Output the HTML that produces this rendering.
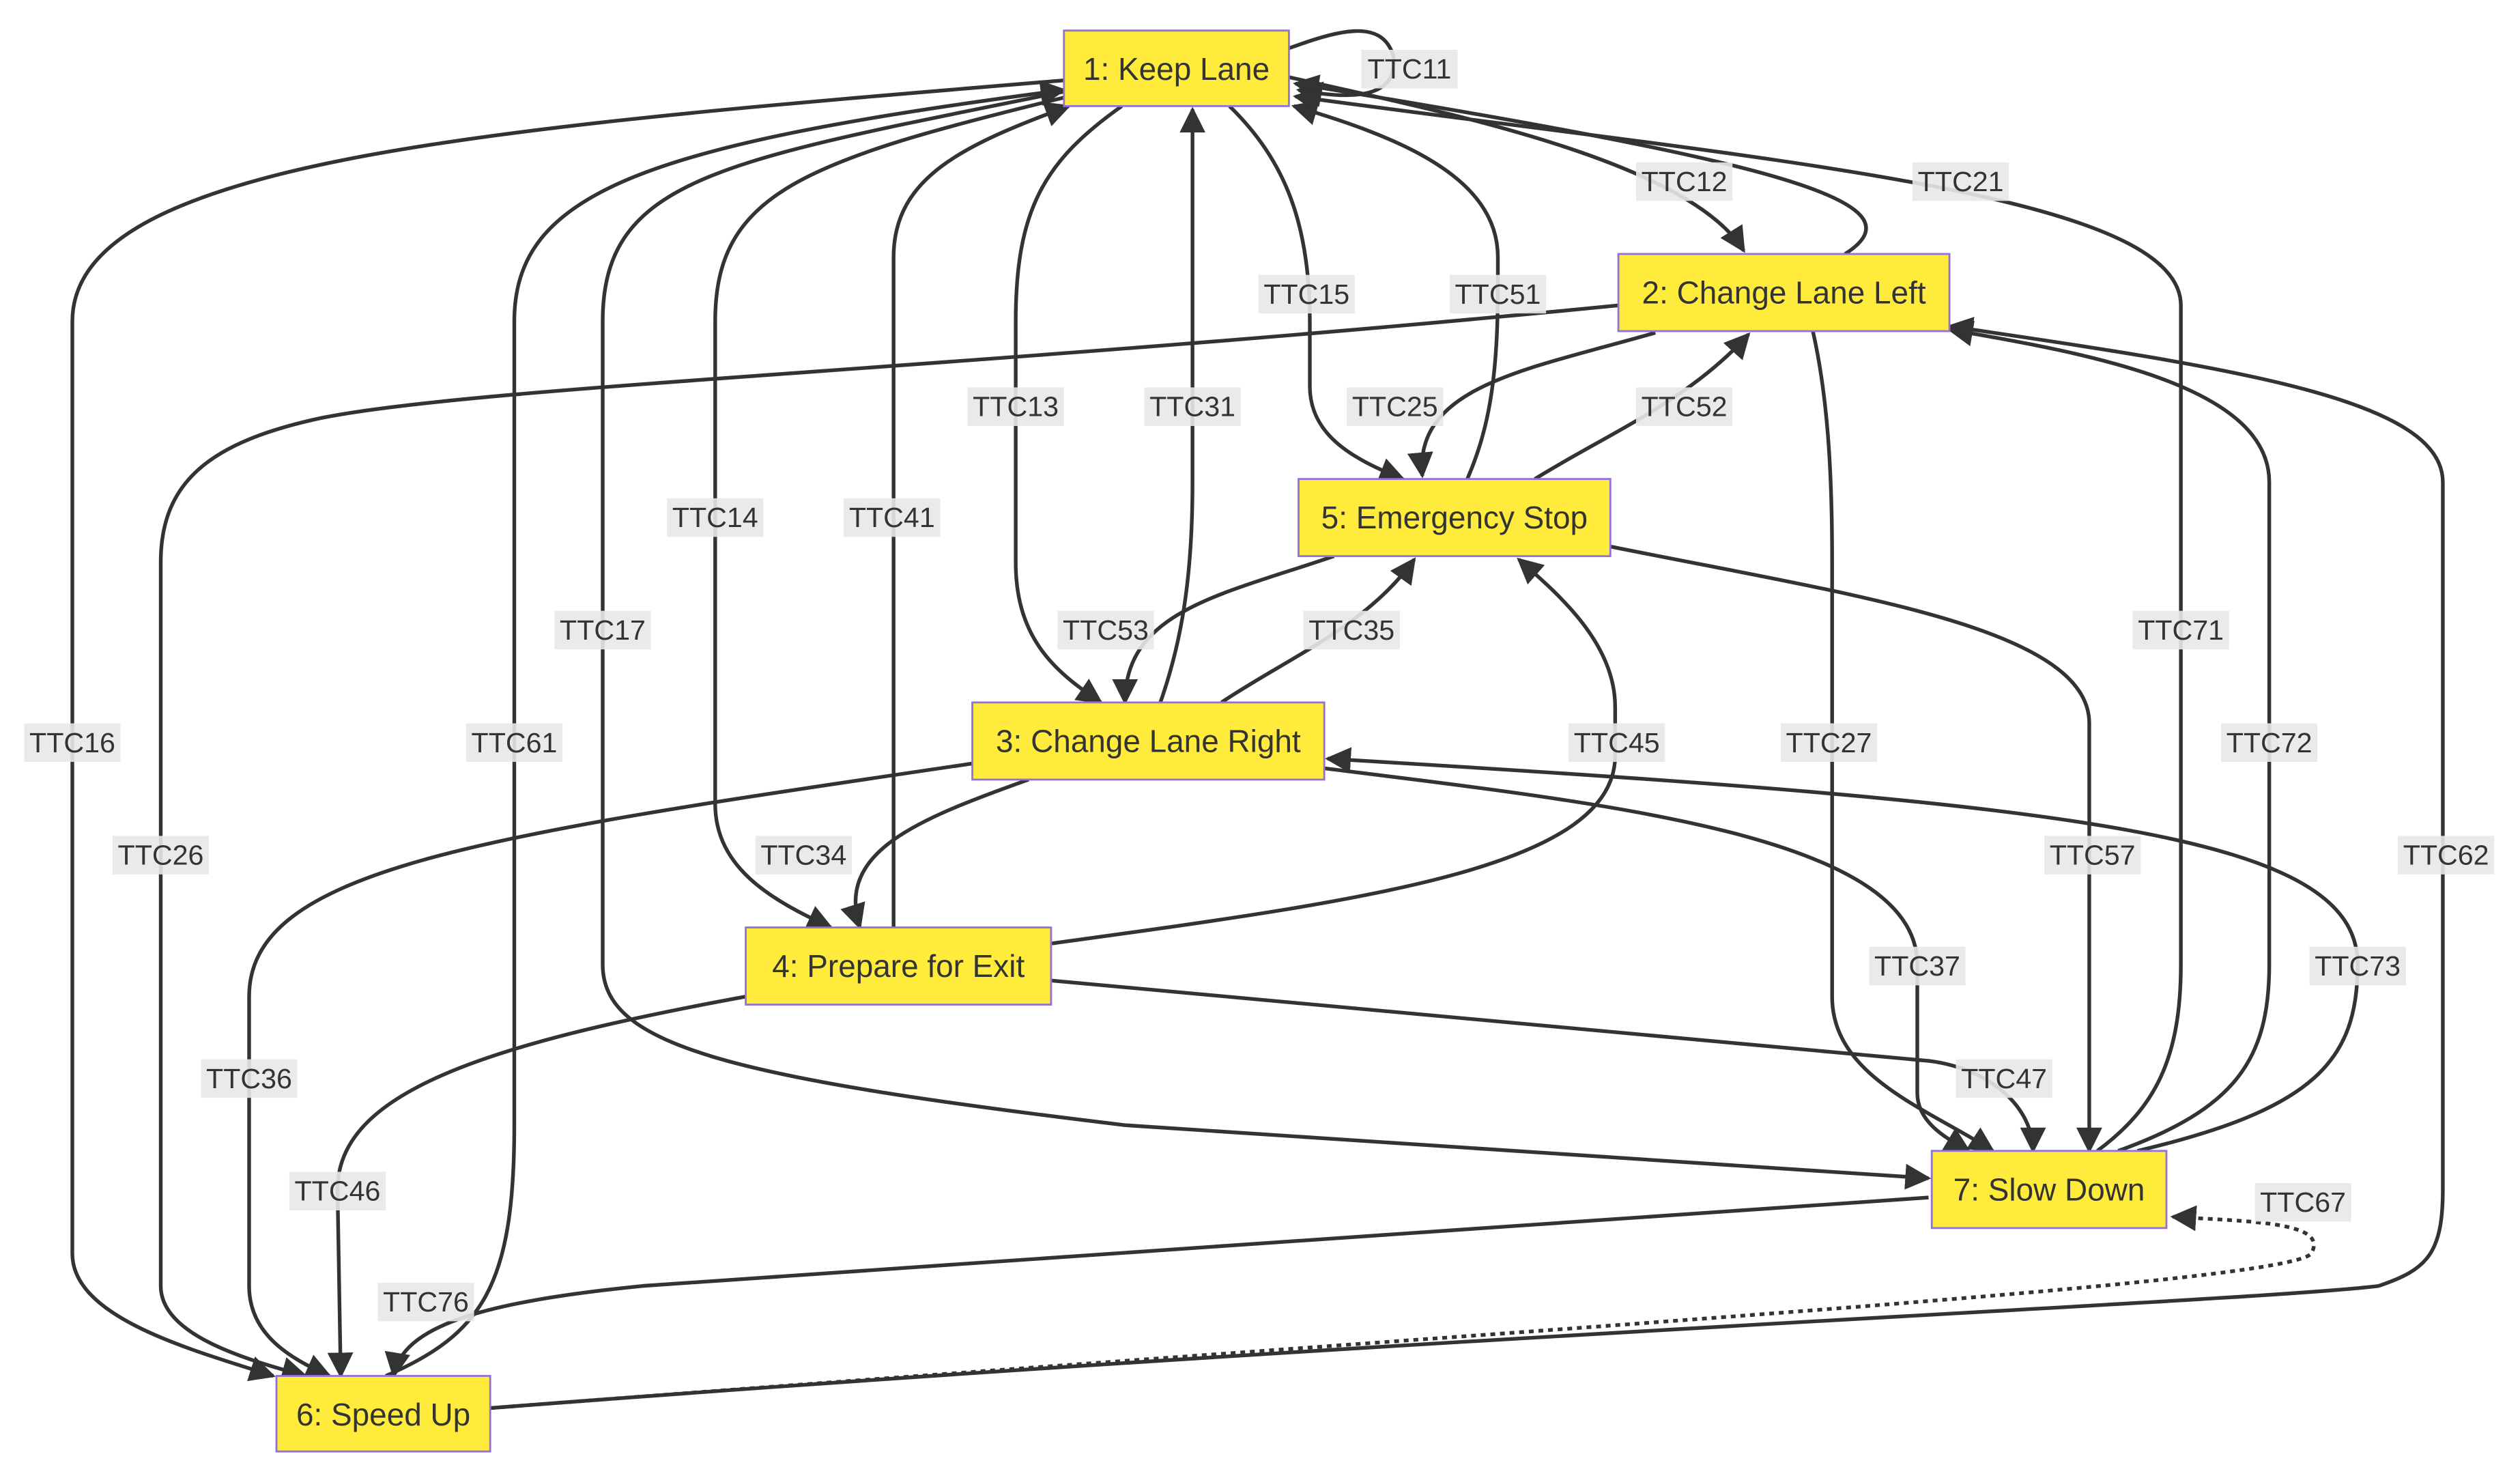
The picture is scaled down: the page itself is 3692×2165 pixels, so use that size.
<!DOCTYPE html>
<html><head><meta charset="utf-8"><style>
html,body{margin:0;padding:0;background:#fff;}
svg{display:block}
.n rect{fill:#ffeb3b;stroke:#9370db;stroke-width:1.2}
.n text{font-family:"Liberation Sans",sans-serif;font-size:19.5px;fill:#333;text-anchor:middle;dominant-baseline:central}
.e path{fill:none;stroke:#333;stroke-width:2.3;marker-end:url(#a)}
.l rect{fill:#e8e8e8;opacity:.9}
.l text{font-family:"Liberation Sans",sans-serif;font-size:17.5px;fill:#333;text-anchor:middle;dominant-baseline:central}
</style></head><body>
<svg width="3692" height="2165" viewBox="0 0 1568 919.5" xmlns="http://www.w3.org/2000/svg">
<defs><marker id="a" viewBox="0 0 10 10" refX="9" refY="5" markerWidth="7" markerHeight="7" orient="auto" markerUnits="strokeWidth"><path d="M0,0L10,5L0,10z" fill="#333"/></marker></defs>
<g class="e">
<path d="M802,30 C830,20 860,10 867,35 C870,62 840,62 808,56"/>
<path d="M802,48 C900,70 1050,100 1085,156"/>
<path d="M1148,158 C1200,125 1100,100 806,52"/>
<path d="M662,50 C300,80 45,100 45,200 L45,780 C45,820 120,840 170,856"/>
<path d="M240,856 C300,830 320,800 320,700 L320,200 C320,120 400,90 662,56"/>
<path d="M662,57 C450,100 375,110 375,200 L375,600 C375,650 450,670 700,700 L1200,733"/>
<path d="M665,60 C500,100 445,120 445,200 L445,500 C445,540 480,560 517,577"/>
<path d="M556,577 L556,160 C556,110 600,90 665,66"/>
<path d="M698,66 C650,100 632,130 632,200 L632,350 C632,400 660,420 685,437"/>
<path d="M722,437 C735,400 742,360 742,300 L742,68"/>
<path d="M765,66 C800,100 815,140 815,200 L815,240 C815,270 840,285 873,298"/>
<path d="M913,298 C925,270 932,240 932,180 L932,160 C932,110 870,85 805,66"/>
<path d="M1030,207 C950,230 880,240 885,296"/>
<path d="M955,298 C1000,270 1050,250 1088,208"/>
<path d="M1007,190 C600,230 300,240 200,260 C130,275 100,300 100,350 L100,800 C100,830 150,845 190,856"/>
<path d="M1128,206 C1138,250 1140,300 1140,350 L1140,620 C1140,670 1200,690 1240,716"/>
<path d="M1305,716 C1340,690 1357,660 1357,600 L1357,190 C1357,120 1100,100 806,60"/>
<path d="M1318,716 C1390,690 1412,660 1412,600 L1412,300 C1412,240 1300,220 1213,205"/>
<path d="M305,876 C900,830 1400,810 1480,800 C1510,790 1520,780 1520,740 L1520,300 C1520,250 1400,230 1213,203"/>
<path d="M305,876 C900,830 1420,800 1438,780 C1450,760 1400,760 1352,757" stroke-dasharray="3,3"/>
<path d="M1200,745 L400,800 C300,810 250,825 245,856"/>
<path d="M830,346 C760,370 700,380 700,437"/>
<path d="M760,437 C800,410 850,390 880,348"/>
<path d="M654,587 C850,560 1005,540 1005,470 L1005,440 C1005,400 970,370 945,348"/>
<path d="M1002,340 C1150,370 1300,390 1300,450 L1300,716"/>
<path d="M640,485 C570,510 520,530 535,577"/>
<path d="M605,475 C300,520 155,540 155,620 L155,800 C155,830 180,845 205,856"/>
<path d="M824,478 C1000,500 1193,520 1193,600 L1193,680 C1193,700 1215,710 1225,716"/>
<path d="M1330,716 C1440,690 1467,660 1467,600 C1467,520 1300,500 826,472"/>
<path d="M464,620 C300,650 210,680 210,740 L212,856"/>
<path d="M654,610 L1200,660 C1240,665 1265,690 1265,716"/>
</g>
<g class="l">
<rect x="847" y="31" width="60" height="24"/><text x="877" y="43">TTC11</text>
<rect x="1018" y="101" width="60" height="24"/><text x="1048" y="113">TTC12</text>
<rect x="1190" y="101" width="60" height="24"/><text x="1220" y="113">TTC21</text>
<rect x="783" y="171" width="60" height="24"/><text x="813" y="183">TTC15</text>
<rect x="902" y="171" width="60" height="24"/><text x="932" y="183">TTC51</text>
<rect x="602" y="241" width="60" height="24"/><text x="632" y="253">TTC13</text>
<rect x="712" y="241" width="60" height="24"/><text x="742" y="253">TTC31</text>
<rect x="838" y="241" width="60" height="24"/><text x="868" y="253">TTC25</text>
<rect x="1018" y="241" width="60" height="24"/><text x="1048" y="253">TTC52</text>
<rect x="415" y="310" width="60" height="24"/><text x="445" y="322">TTC14</text>
<rect x="525" y="310" width="60" height="24"/><text x="555" y="322">TTC41</text>
<rect x="345" y="380" width="60" height="24"/><text x="375" y="392">TTC17</text>
<rect x="658" y="380" width="60" height="24"/><text x="688" y="392">TTC53</text>
<rect x="811" y="380" width="60" height="24"/><text x="841" y="392">TTC35</text>
<rect x="1327" y="380" width="60" height="24"/><text x="1357" y="392">TTC71</text>
<rect x="15" y="450" width="60" height="24"/><text x="45" y="462">TTC16</text>
<rect x="290" y="450" width="60" height="24"/><text x="320" y="462">TTC61</text>
<rect x="976" y="450" width="60" height="24"/><text x="1006" y="462">TTC45</text>
<rect x="1108" y="450" width="60" height="24"/><text x="1138" y="462">TTC27</text>
<rect x="1382" y="450" width="60" height="24"/><text x="1412" y="462">TTC72</text>
<rect x="70" y="520" width="60" height="24"/><text x="100" y="532">TTC26</text>
<rect x="470" y="520" width="60" height="24"/><text x="500" y="532">TTC34</text>
<rect x="1272" y="520" width="60" height="24"/><text x="1302" y="532">TTC57</text>
<rect x="1492" y="520" width="60" height="24"/><text x="1522" y="532">TTC62</text>
<rect x="1163" y="589" width="60" height="24"/><text x="1193" y="601">TTC37</text>
<rect x="1437" y="589" width="60" height="24"/><text x="1467" y="601">TTC73</text>
<rect x="125" y="659" width="60" height="24"/><text x="155" y="671">TTC36</text>
<rect x="1217" y="659" width="60" height="24"/><text x="1247" y="671">TTC47</text>
<rect x="180" y="729" width="60" height="24"/><text x="210" y="741">TTC46</text>
<rect x="1403" y="736" width="60" height="24"/><text x="1433" y="748">TTC67</text>
<rect x="235" y="798" width="60" height="24"/><text x="265" y="810">TTC76</text>
</g>
<g class="n">
<rect x="662" y="19" width="140" height="47"/><text x="732" y="43">1: Keep Lane</text>
<rect x="1007" y="158" width="206" height="48"/><text x="1110" y="182">2: Change Lane Left</text>
<rect x="808" y="298" width="194" height="48"/><text x="905" y="322">5: Emergency Stop</text>
<rect x="605" y="437" width="219" height="48"/><text x="714.5" y="461">3: Change Lane Right</text>
<rect x="464" y="577" width="190" height="48"/><text x="559" y="601">4: Prepare for Exit</text>
<rect x="1202" y="716" width="146" height="48"/><text x="1275" y="740">7: Slow Down</text>
<rect x="172" y="856" width="133" height="47"/><text x="238.5" y="880">6: Speed Up</text>
</g>
</svg>
</body></html>
